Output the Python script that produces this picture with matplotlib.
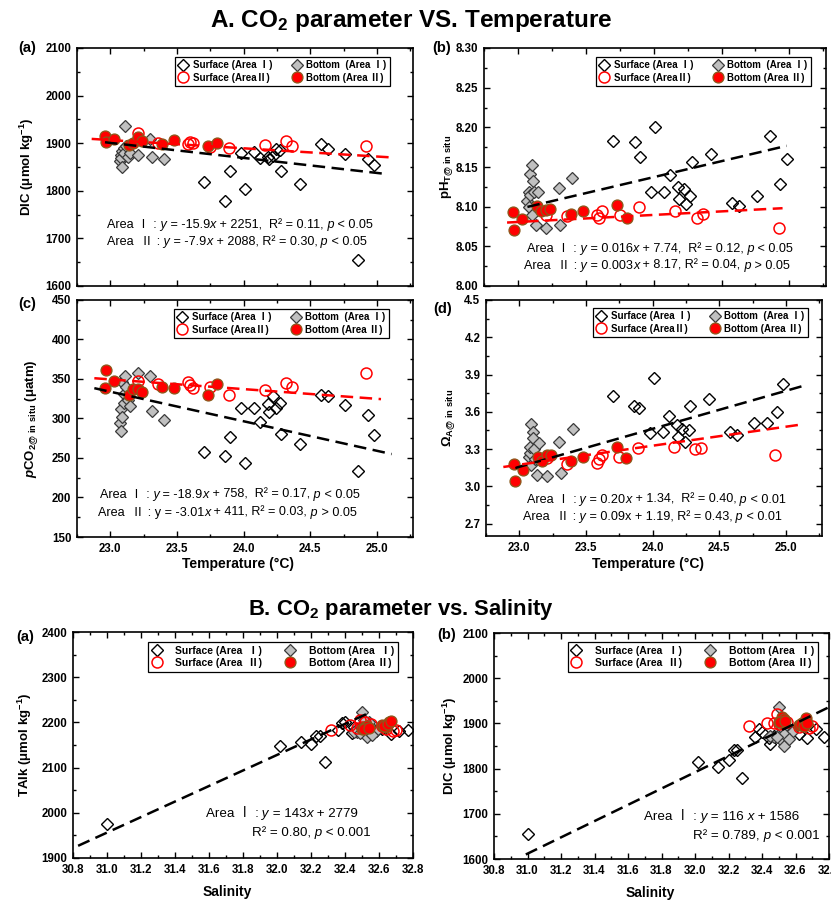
import numpy as np
import matplotlib
matplotlib.use("Agg")
import matplotlib.pyplot as plt
from matplotlib.ticker import AutoMinorLocator, MultipleLocator, FormatStrFormatter

plt.rcParams["font.family"] = ["Liberation Sans", "Noto Sans CJK SC", "DejaVu Sans"]
plt.rcParams["font.weight"] = "bold"
plt.rcParams["axes.labelweight"] = "bold"
plt.rcParams["mathtext.fontset"] = "custom"
plt.rcParams["mathtext.rm"] = "Liberation Sans"
plt.rcParams["mathtext.it"] = "Liberation Sans:italic"
plt.rcParams["mathtext.bf"] = "Liberation Sans:bold"
plt.rcParams["mathtext.bfit"] = "Liberation Sans:italic:bold"

# ---- surface water, Area I ----
temp_s1 = [23.70, 23.86, 23.90, 24.01, 23.98, 24.08, 24.12, 24.18, 24.19, 24.22,
           24.24, 24.27, 24.28, 24.42, 24.58, 24.63, 24.76, 24.86, 24.93, 24.98]
sal_s1 = [32.20, 32.28, 32.23, 32.14, 32.40, 32.55, 32.77, 32.36, 32.67, 32.47,
          32.38, 32.58, 32.25, 32.02, 32.52, 32.72, 32.62, 31.00, 32.44, 32.45]
dic_s1 = [1819, 1779, 1842, 1804, 1880, 1881, 1869, 1871, 1867, 1873,
          1888, 1885, 1841, 1815, 1899, 1888, 1877, 1655, 1867, 1855]
talk_s1 = [2153, 2112, 2171, 2156, 2201, 2182, 2183, 2184, 2174, 2185,
           2198, 2180, 2169, 2147, 2195, 2180, 2186, 1975, 2176, 2190]
ph_s1 = [8.183, 8.181, 8.162, 8.200, 8.119, 8.119, 8.140, 8.125, 8.110, 8.122,
         8.103, 8.114, 8.156, 8.167, 8.104, 8.101, 8.114, 8.189, 8.129, 8.160]
pco2_s1 = [257, 253, 276, 244, 313, 313, 295, 318, 308, 329,
           313, 319, 280, 268, 330, 329, 317, 233, 304, 279]
omega_s1 = [3.73, 3.65, 3.63, 3.87, 3.43, 3.44, 3.57, 3.49, 3.40, 3.46,
            3.36, 3.45, 3.65, 3.70, 3.44, 3.41, 3.51, 3.51, 3.60, 3.82]

# ---- bottom water, Area I ----
temp_b1 = [23.07, 23.08, 23.08, 23.09, 23.09, 23.10, 23.10, 23.11, 23.12, 23.13,
           23.15, 23.21, 23.30, 23.31, 23.40]
sal_b1 = [32.52, 32.50, 32.47, 32.53, 32.55, 32.52, 32.56, 32.50, 32.54, 32.45,
          32.58, 32.53, 32.51, 32.49, 32.56]
dic_b1 = [1862, 1876, 1869, 1851, 1883, 1890, 1880, 1936, 1895, 1872,
          1880, 1876, 1908, 1870, 1866]
talk_b1 = [2180, 2185, 2178, 2170, 2190, 2195, 2188, 2222, 2200, 2178,
           2182, 2168, 2205, 2176, 2172]
ph_b1 = [8.107, 8.119, 8.100, 8.141, 8.115, 8.152, 8.090, 8.132, 8.119, 8.077,
         8.119, 8.073, 8.124, 8.077, 8.136]
pco2_b1 = [294, 284, 312, 346, 302, 331, 320, 354, 340, 324,
           316, 357, 354, 309, 298]
omega_b1 = [3.24, 3.27, 3.32, 3.50, 3.17, 3.44, 3.39, 3.30, 3.22, 3.09,
            3.35, 3.08, 3.36, 3.11, 3.46]

# ---- surface water, Area II ----
temp_s2 = [23.21, 23.36, 23.58, 23.60, 23.62, 23.75, 23.89, 24.16, 24.32, 24.36, 24.92]
sal_s2 = [32.49, 32.43, 32.50, 32.52, 32.47, 32.62, 32.68, 32.64, 32.55, 32.32, 32.70]
dic_s2 = [1921, 1901, 1899, 1902, 1900, 1893, 1889, 1897, 1904, 1895, 1895]
talk_s2 = [2206, 2195, 2190, 2200, 2188, 2192, 2180, 2186, 2196, 2184, 2184]
ph_s2 = [8.090, 8.088, 8.090, 8.086, 8.094, 8.090, 8.100, 8.095, 8.086, 8.091, 8.073]
pco2_s2 = [347, 344, 346, 342, 339, 340, 330, 336, 345, 340, 357]
omega_s2 = [3.23, 3.18, 3.19, 3.22, 3.255, 3.24, 3.31, 3.32, 3.30, 3.31, 3.255]

# ---- bottom water, Area II ----
temp_b2 = [22.96, 22.97, 23.03, 23.14, 23.17, 23.21, 23.24, 23.39, 23.48, 23.73, 23.80]
sal_b2 = [32.52, 32.50, 32.53, 32.62, 32.64, 32.66, 32.51, 32.63, 32.54, 32.65, 32.67]
dic_b2 = [1915, 1903, 1909, 1897, 1900, 1913, 1904, 1899, 1906, 1895, 1901]
talk_b2 = [2190, 2186, 2192, 2194, 2190, 2200, 2185, 2192, 2188, 2196, 2202]
ph_b2 = [8.093, 8.071, 8.084, 8.101, 8.094, 8.096, 8.097, 8.091, 8.094, 8.102, 8.086]
pco2_b2 = [339, 361, 347, 330, 337, 337, 334, 340, 339, 330, 344]
omega_b2 = [3.18, 3.04, 3.13, 3.24, 3.20, 3.25, 3.255, 3.20, 3.24, 3.32, 3.23]

# regression lines as plotted: (slope, intercept) and x extent
fit_dic_t = {"I": (-31.6, 2627.5, 22.96, 25.05), "II": (-17.3, 2304.5, 22.86, 25.11)}
fit_ph_t = {"I": (0.0403, 7.170, 23.07, 24.98), "II": (0.0089, 7.876, 22.92, 24.95)}
fit_pco2_t = {"I": (-37.4, 1194.1, 22.88, 25.11), "II": (-12.3, 632.4, 22.88, 25.03)}
fit_omega_t = {"I": (0.306, -3.881, 22.97, 25.13), "II": (0.153, -0.345, 22.88, 25.13)}
fit_talk_s = {"I": (171.8, -3369.6, 30.83, 32.53)}
fit_dic_s = {"I": (180.1, -3971.3, 30.99, 32.80)}

labels_t = ["Surface (Area Ⅰ)", "Surface (AreaⅡ)", "Bottom  (Area Ⅰ)", "Bottom (Area Ⅱ)"]
labels_s = ["Surface (Area  Ⅰ)", "Surface (Area  Ⅱ)", "Bottom (Area  Ⅰ)", "Bottom (Area Ⅱ)"]

W, H = 831, 902

STYLE = {
    "s1": dict(marker="D", ms=6.6, mfc="none", mec="black", mew=1.0),
    "b1": dict(marker="D", ms=6.6, mfc="#c0c0c0", mec="#3a3a3a", mew=0.9),
    "s2": dict(marker="o", ms=7.9, mfc="none", mec="#ff0000", mew=1.1),
    "b2": dict(marker="o", ms=7.9, mfc="#ff0000", mec="#8a5a1c", mew=0.9),
}
FIT_COLOR = {"I": "black", "II": "#ff0000"}


def box(left, top, width, height):
    return [left / W, 1 - (top + height) / H, width / W, height / H]


def style_axes(ax, xlim, ylim, xstep, ystep, xfmt, yfmt, xlabels=True):
    ax.set_xlim(*xlim)
    ax.set_ylim(*ylim)
    ax.xaxis.set_major_locator(MultipleLocator(xstep))
    ax.yaxis.set_major_locator(MultipleLocator(ystep))
    ax.xaxis.set_minor_locator(AutoMinorLocator(2))
    ax.yaxis.set_minor_locator(AutoMinorLocator(2))
    ax.xaxis.set_major_formatter(FormatStrFormatter(xfmt))
    ax.yaxis.set_major_formatter(FormatStrFormatter(yfmt))
    ax.tick_params(which="both", direction="in", top=True, right=True, width=1.0)
    ax.tick_params(which="major", length=4, labelsize=8.3, pad=4)
    ax.tick_params(which="minor", length=2.2)
    ax.tick_params(axis="x", labelbottom=xlabels)
    plt.setp(ax.get_xticklabels() + ax.get_yticklabels(), fontweight="bold")
    for sp in ax.spines.values():
        sp.set_linewidth(1.2)


def draw_groups(ax, xs, ys):
    handles = {}
    for key in ["s1", "b1", "s2", "b2"]:
        (h,) = ax.plot(xs[key], ys[key], linestyle="none", zorder=3, **STYLE[key])
        handles[key] = h
    return [handles["s1"], handles["s2"], handles["b1"], handles["b2"]]


def draw_fits(ax, fits):
    for area, (slope, icpt, x0, x1) in fits.items():
        x = np.array([x0, x1])
        ax.plot(x, slope * x + icpt, color=FIT_COLOR[area], lw=1.8,
                dashes=(5, 2.6), zorder=4)


def add_legend(ax, handles, labels, anchor, size=7.0, textpad=0.5, colspace=2.0):
    leg = ax.legend(handles, labels, ncol=2, loc="upper right", bbox_to_anchor=anchor,
                    borderaxespad=0, fancybox=False, framealpha=1, edgecolor="black",
                    prop={"size": size, "weight": "bold"}, handlelength=1.0,
                    handletextpad=textpad, columnspacing=colspace, borderpad=0.35,
                    labelspacing=0.22)
    leg.get_frame().set_linewidth(0.9)


def rich_line(ax, x, y, runs, size):
    # runs of (text, italic) laid out one after another on the same baseline
    prev = None
    for txt, italic in runs:
        kw = dict(fontsize=size, fontweight="normal", va="bottom", ha="left",
                  fontstyle="italic" if italic else "normal", zorder=5)
        if prev is None:
            prev = ax.text(x, y, txt, transform=ax.transAxes, **kw)
        else:
            prev = ax.annotate(txt, xy=(1, 0), xycoords=prev, **kw)


def main():
    fig = plt.figure(figsize=(W / 100, H / 100), dpi=100)

    temps = {"s1": temp_s1, "b1": temp_b1, "s2": temp_s2, "b2": temp_b2}
    sals = {"s1": sal_s1, "b1": sal_b1, "s2": sal_s2, "b2": sal_b2}
    tlim = (22.75, 25.27)
    ann = 9.1

    # A(a) DIC vs temperature
    ax = fig.add_axes(box(77, 48, 336, 238))
    h = draw_groups(ax, temps, {"s1": dic_s1, "b1": dic_b1, "s2": dic_s2, "b2": dic_b2})
    draw_fits(ax, fit_dic_t)
    style_axes(ax, tlim, (1600, 2100), 0.5, 100, "%.1f", "%d", xlabels=False)
    ax.set_ylabel(r"DIC (μmol kg$^{\mathbf{-1}}$)", fontsize=9.5)
    ax.yaxis.set_label_coords(-0.122, 0.5)
    add_legend(ax, h, labels_t, (0.932, 0.962))
    rich_line(ax, 0.089, 0.229, [("Area Ⅰ :", 0), (" y", 1), (" = -15.9", 0), ("x", 1),
                                 (" + 2251,  R² = 0.11,", 0), (" p", 1), (" < 0.05", 0)], ann)
    rich_line(ax, 0.089, 0.158, [("Area  Ⅱ :", 0), (" y", 1), (" = -7.9", 0), ("x", 1),
                                 (" + 2088, R² = 0.30,", 0), (" p", 1), (" < 0.05", 0)], ann)

    # A(b) pH vs temperature
    ax = fig.add_axes(box(484, 48, 342, 238))
    h = draw_groups(ax, temps, {"s1": ph_s1, "b1": ph_b1, "s2": ph_s2, "b2": ph_b2})
    draw_fits(ax, fit_ph_t)
    style_axes(ax, tlim, (8.00, 8.30), 0.5, 0.05, "%.1f", "%.2f", xlabels=False)
    ax.set_ylabel(r"pH$_{\mathbf{T@\ in\ situ}}$", fontsize=9.5)
    ax.yaxis.set_label_coords(-0.085, 0.5)
    add_legend(ax, h, labels_t, (0.956, 0.962))
    rich_line(ax, 0.126, 0.129, [("Area Ⅰ :", 0), (" y", 1), (" = 0.016", 0), ("x", 1),
                                 (" + 7.74,  R² = 0.12,", 0), (" p", 1), (" < 0.05", 0)], ann)
    rich_line(ax, 0.117, 0.060, [("Area  Ⅱ :", 0), (" y", 1), (" = 0.003", 0), ("x", 1),
                                 (" + 8.17, R² = 0.04,", 0), (" p", 1), (" > 0.05", 0)], ann)

    # A(c) pCO2 vs temperature
    ax = fig.add_axes(box(77, 300, 336, 237))
    h = draw_groups(ax, temps, {"s1": pco2_s1, "b1": pco2_b1, "s2": pco2_s2, "b2": pco2_b2})
    draw_fits(ax, fit_pco2_t)
    style_axes(ax, tlim, (150, 450), 0.5, 50, "%.1f", "%d")
    ax.set_ylabel(r"$\mathbfit{p}$CO$_{\mathbf{2@\ in\ situ}}$ (μatm)", fontsize=9.5)
    ax.yaxis.set_label_coords(-0.110, 0.5)
    ax.set_xlabel("Temperature (°C)", fontsize=10)
    ax.xaxis.set_label_coords(0.479, -0.084)
    add_legend(ax, h, labels_t, (0.929, 0.962))
    rich_line(ax, 0.068, 0.153, [("Area Ⅰ :", 0), (" y", 1), (" = -18.9", 0), ("x", 1),
                                 (" + 758,  R² = 0.17,", 0), (" p", 1), (" < 0.05", 0)], ann)
    rich_line(ax, 0.062, 0.078, [("Area  Ⅱ : y = -3.01", 0), ("x", 1),
                                 (" + 411, R² = 0.03,", 0), (" p", 1), (" > 0.05", 0)], ann)

    # A(d) aragonite saturation vs temperature
    ax = fig.add_axes(box(486, 300, 336, 236))
    h = draw_groups(ax, temps, {"s1": omega_s1, "b1": omega_b1, "s2": omega_s2, "b2": omega_b2})
    draw_fits(ax, fit_omega_t)
    style_axes(ax, tlim, (2.6, 4.5), 0.5, 0.3, "%.1f", "%.1f")
    ax.set_ylabel(r"Ω$_{\mathbf{A@\ in\ situ}}$", fontsize=9.5)
    ax.yaxis.set_label_coords(-0.086, 0.5)
    ax.set_xlabel("Temperature (°C)", fontsize=10)
    ax.xaxis.set_label_coords(0.482, -0.089)
    add_legend(ax, h, labels_t, (0.958, 0.966))
    rich_line(ax, 0.121, 0.128, [("Area Ⅰ :", 0), (" y", 1), (" = 0.20", 0), ("x", 1),
                                 (" + 1.34,  R² = 0.40,", 0), (" p", 1), (" < 0.01", 0)], ann)
    rich_line(ax, 0.109, 0.054, [("Area  Ⅱ :", 0), (" y", 1), (" = 0.09x + 1.19, R² = 0.43,", 0),
                                 (" p", 1), (" < 0.01", 0)], ann)

    # B(a) TAlk vs salinity
    slim = (30.8, 32.8)
    ax = fig.add_axes(box(73, 632, 340, 226))
    h = draw_groups(ax, sals, {"s1": talk_s1, "b1": talk_b1, "s2": talk_s2, "b2": talk_b2})
    draw_fits(ax, fit_talk_s)
    style_axes(ax, slim, (1900, 2400), 0.2, 100, "%.1f", "%d")
    ax.set_ylabel(r"TAlk (μmol kg$^{\mathbf{-1}}$)", fontsize=9.5)
    ax.yaxis.set_label_coords(-0.115, 0.5)
    ax.set_xlabel("Salinity", fontsize=10)
    ax.xaxis.set_label_coords(0.453, -0.119)
    add_legend(ax, h, labels_s, (0.956, 0.956), size=7.5, textpad=1.3, colspace=2.2)
    rich_line(ax, 0.390, 0.167, [("Area Ⅰ :", 0), (" y", 1), (" = 143", 0), ("x", 1),
                                 (" + 2779", 0)], 9.6)
    rich_line(ax, 0.526, 0.084, [("R² = 0.80,", 0), (" p", 1), (" < 0.001", 0)], 9.6)

    # B(b) DIC vs salinity
    ax = fig.add_axes(box(494, 633, 335, 226))
    h = draw_groups(ax, sals, {"s1": dic_s1, "b1": dic_b1, "s2": dic_s2, "b2": dic_b2})
    draw_fits(ax, fit_dic_s)
    style_axes(ax, slim, (1600, 2100), 0.2, 100, "%.1f", "%d")
    ax.set_ylabel(r"DIC (μmol kg$^{\mathbf{-1}}$)", fontsize=9.5)
    ax.yaxis.set_label_coords(-0.104, 0.5)
    ax.set_xlabel("Salinity", fontsize=10)
    ax.xaxis.set_label_coords(0.466, -0.119)
    add_legend(ax, h, labels_s, (0.967, 0.960), size=7.5, textpad=1.3, colspace=2.2)
    rich_line(ax, 0.447, 0.159, [("Area Ⅰ :", 0), (" y", 1), (" = 116", 0), (" x", 1),
                                 (" + 1586", 0)], 9.6)
    rich_line(ax, 0.595, 0.074, [("R² = 0.789,", 0), (" p", 1), (" < 0.001", 0)], 9.6)

    # panel letters and section titles
    for txt, x, y in [("(a)", 27, 48), ("(b)", 442, 48), ("(c)", 27, 304), ("(d)", 443, 309),
                      ("(a)", 25, 637), ("(b)", 447, 635)]:
        fig.text(x / W, 1 - y / H, txt, fontsize=10.5, ha="center", va="center")
    fig.text(411 / W, 1 - 27 / H, r"A. CO$_{\mathbf{2}}$ parameter VS. Temperature",
             fontsize=17.5, ha="center", va="baseline")
    fig.text(401 / W, 1 - 615 / H, r"B. CO$_{\mathbf{2}}$ parameter vs. Salinity",
             fontsize=15.8, ha="center", va="baseline")

    fig.savefig("out.png", dpi=100, facecolor="white")
    plt.close(fig)


if __name__ == "__main__":
    main()
